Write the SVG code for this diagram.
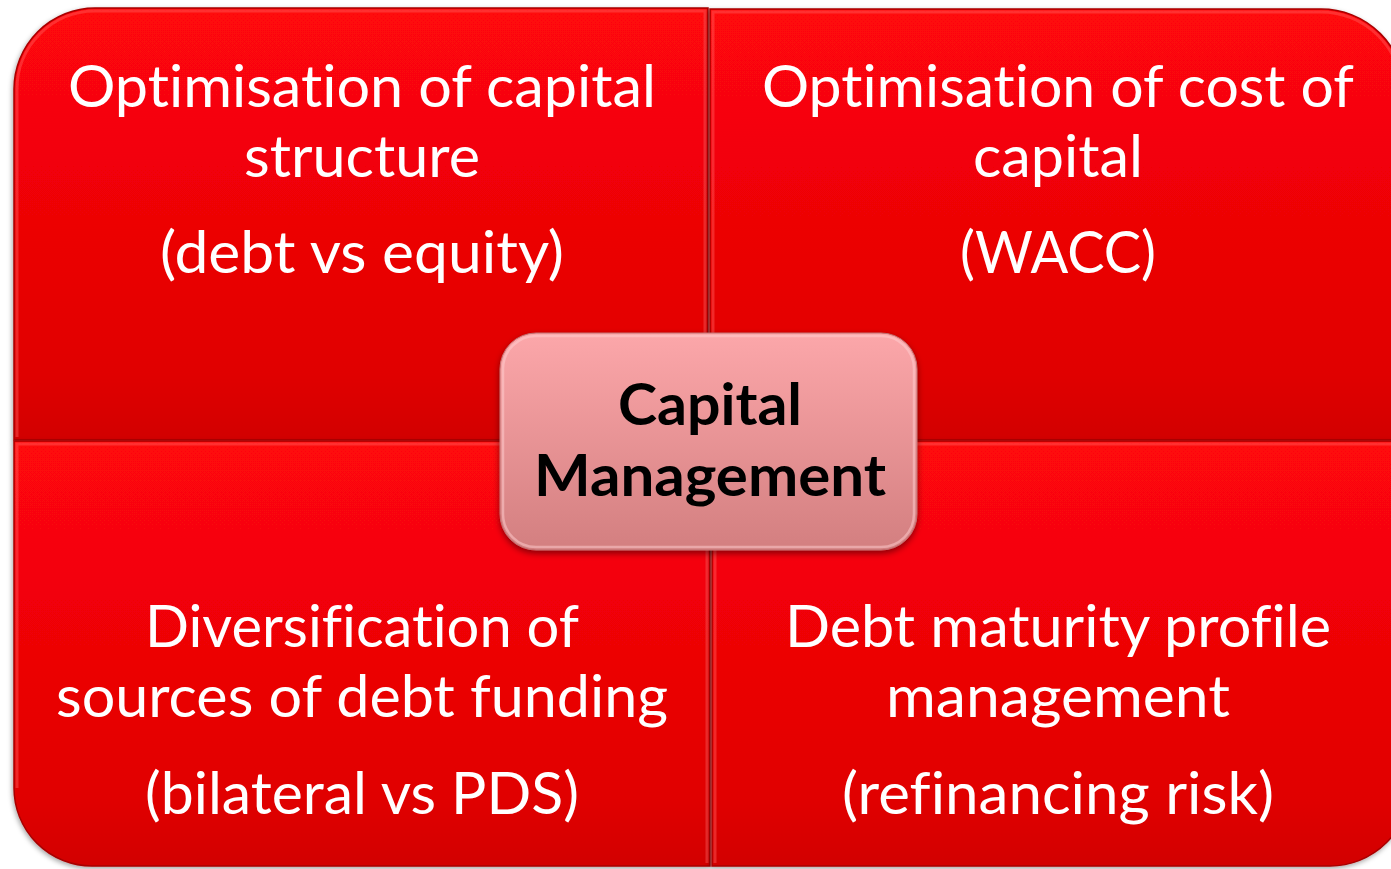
<svg xmlns="http://www.w3.org/2000/svg" width="1391" height="869" viewBox="0 0 1391 869">
<style>
.q{stroke:#a80000;stroke-width:1.5;filter:url(#sh)}
.hl{fill:none;stroke:#ff5a5a;stroke-opacity:0.45;stroke-width:3}
.t{font-family:Lato,"Open Sans","Liberation Sans",sans-serif;font-size:58px;fill:#ffffff;text-anchor:middle;font-variant-ligatures:none}
.c{font-family:Lato,"Open Sans","Liberation Sans",sans-serif;font-size:58px;font-weight:bold;fill:#000000;text-anchor:middle;font-variant-ligatures:none}
</style>
<defs>
<linearGradient id="gq" x1="0" y1="0" x2="0" y2="1">
<stop offset="0" stop-color="#ff070a"/>
<stop offset="0.85" stop-color="#e00303"/>
<stop offset="1" stop-color="#d20202"/>
</linearGradient>
<linearGradient id="gc" x1="0" y1="0" x2="0" y2="1">
<stop offset="0" stop-color="#fca7aa"/>
<stop offset="1" stop-color="#d37f80"/>
</linearGradient>
<filter id="sh" x="-5%" y="-5%" width="110%" height="115%">
<feDropShadow dx="-1" dy="2" stdDeviation="2.5" flood-color="#000" flood-opacity="0.35"/>
</filter>
<filter id="shc" x="-10%" y="-10%" width="120%" height="130%">
<feDropShadow dx="0" dy="3" stdDeviation="3" flood-color="#000" flood-opacity="0.45"/>
</filter>
</defs>

<g id="q-top-left">
<path class="q" fill="url(#gq)" d="M14 440 L14 89 A81 81 0 0 1 95 8 L708 8 L708 440 Z"/>
<path class="hl" d="M17 437 L17 89 A78 78 0 0 1 95 11 L705 11 L705 437"/>
<text class="t" x="362" y="107" textLength="588" lengthAdjust="spacingAndGlyphs">Optimisation of capital</text>
<text class="t" x="362" y="177" textLength="236" lengthAdjust="spacingAndGlyphs">structure</text>
<text class="t" x="362" y="273" textLength="404" lengthAdjust="spacingAndGlyphs">(debt vs equity)</text>
</g>

<g id="q-top-right">
<path class="q" fill="url(#gq)" d="M710 9 L1321 9 A84 84 0 0 1 1405 93 L1405 440 L710 440 Z"/>
<path class="hl" d="M713 437 L713 12 L1321 12 A81 81 0 0 1 1402 93"/>
<text class="t" x="1058" y="107" textLength="592" lengthAdjust="spacingAndGlyphs">Optimisation of cost of</text>
<text class="t" x="1058" y="177" textLength="170" lengthAdjust="spacingAndGlyphs">capital</text>
<text class="t" x="1058" y="273" textLength="196" lengthAdjust="spacingAndGlyphs">(WACC)</text>
</g>

<g id="q-bottom-left">
<path class="q" fill="url(#gq)" d="M14 441 L710 441 L710 866 L92 866 A78 78 0 0 1 14 788 Z"/>
<path class="hl" d="M17 788 L17 444 L707 444 L707 863"/>
<text class="t" x="362" y="647" textLength="434" lengthAdjust="spacingAndGlyphs">Diversification of</text>
<text class="t" x="362" y="717" textLength="612" lengthAdjust="spacingAndGlyphs">sources of debt funding</text>
<text class="t" x="362" y="814" textLength="434" lengthAdjust="spacingAndGlyphs">(bilateral vs PDS)</text>
</g>

<g id="q-bottom-right">
<path class="q" fill="url(#gq)" d="M712 441 L1410 441 L1410 786 A80 80 0 0 1 1330 866 L712 866 Z"/>
<path class="hl" d="M715 863 L715 444 L1407 444"/>
<text class="t" x="1058" y="647" textLength="546" lengthAdjust="spacingAndGlyphs">Debt maturity profile</text>
<text class="t" x="1058" y="717" textLength="344" lengthAdjust="spacingAndGlyphs">management</text>
<text class="t" x="1058" y="814" textLength="432" lengthAdjust="spacingAndGlyphs">(refinancing risk)</text>
</g>

<g id="center">
<rect x="500" y="333" width="417" height="217" rx="36" fill="url(#gc)" stroke="#c07070" stroke-width="1" filter="url(#shc)"/>
<rect x="503" y="336" width="411" height="211" rx="33" fill="none" stroke="#ffd0d2" stroke-opacity="0.5" stroke-width="2.5"/>
<text class="c" x="710" y="425" textLength="184" lengthAdjust="spacingAndGlyphs">Capital</text>
<text class="c" x="710" y="496" textLength="352" lengthAdjust="spacingAndGlyphs">Management</text>
</g>

<g id="connectors"/>
</svg>
